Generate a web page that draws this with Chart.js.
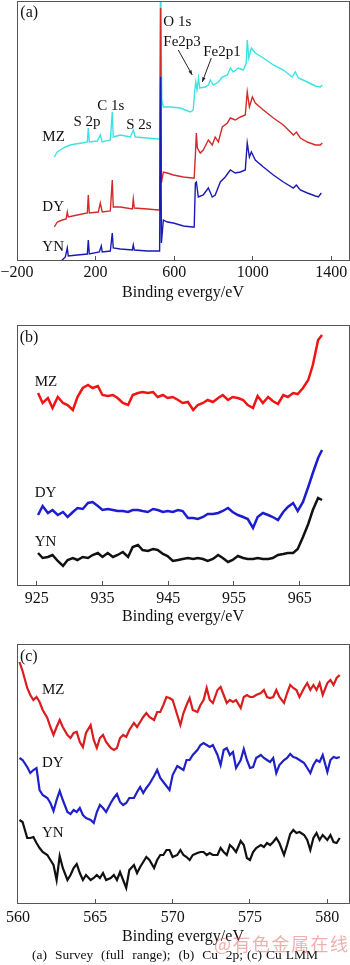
<!DOCTYPE html>
<html>
<head>
<meta charset="utf-8">
<script src="https://cdn.jsdelivr.net/npm/chart.js@4.4.1/dist/chart.umd.min.js"></script>
<style>
  body { margin: 0; background: #fff; width: 350px; height: 965px; position: relative; overflow: hidden; }
  canvas { position: absolute; left: 0; }
  #caption { position: absolute; left: 0; width: 350px; top: 947px; text-align: center;
    font: 13.5px "Liberation Serif", serif; word-spacing: 0.6px; line-height: 16px; color: #111; white-space: pre; }
  #mark { position: absolute; left: 214px; top: 930px; font: 18px "Noto Sans CJK SC", sans-serif;
    color: rgba(225, 95, 95, 0.5); letter-spacing: 1.5px; }
</style>
</head>
<body>
<canvas id="chartA" width="350" height="305" style="top:0px"></canvas>
<canvas id="chartB" width="350" height="323" style="top:305px"></canvas>
<canvas id="chartC" width="350" height="320" style="top:628px"></canvas>
<div id="caption">(a)  Survey  (full  range);  (b)  Cu  2p; (c) Cu LMM</div>
<div id="mark">@有色金属在线</div>
<script>
// ---- (a) survey spectrum, intensity in arbitrary units ----
const surveyTicks = [-200, 200, 600, 1000, 1400];
const surveyMzEv = [-10, 5, 20, 46, 71, 97, 132, 158, 163, 168, 209, 224, 234, 275, 285, 290, 326, 377, 392, 402, 463, 519, 526, 531, 537, 545, 580, 631, 682, 697, 705, 710, 716, 724, 730, 759, 774, 784, 799, 825, 845, 871, 886, 901, 927, 952, 967, 972, 980, 993, 1013, 1054, 1105, 1156, 1201, 1217, 1232, 1278, 1319, 1344, 1354];
const surveyMz = [103, 108, 110, 113, 115, 116, 117, 118, 132, 118, 119, 125, 118, 120, 148, 123, 125, 123, 130, 123, 122, 121, 121, 300, 160, 153, 153, 152, 148, 150, 170, 178, 170, 182, 172, 173, 175, 180, 175, 178, 183, 185, 192, 188, 192, 190, 197, 220, 202, 212, 207, 202, 195, 190, 183, 188, 182, 178, 174, 173, 175];
const surveyDyEv = [-10, 5, 31, 50, 56, 61, 107, 158, 163, 168, 214, 224, 234, 275, 285, 290, 326, 387, 392, 397, 463, 519, 526, 531, 535, 545, 565, 596, 647, 692, 702, 708, 713, 718, 733, 748, 774, 794, 809, 825, 845, 871, 886, 911, 937, 962, 972, 983, 998, 1013, 1054, 1105, 1156, 1207, 1222, 1242, 1278, 1319, 1344, 1354];
const surveyDy = [33, 38, 40, 41, 48, 43, 45, 47, 65, 47, 48, 57, 48, 49, 80, 53, 53, 51, 61, 52, 51, 50, 50, 252, 77, 88, 87, 85, 83, 82, 82, 105, 127, 112, 107, 110, 120, 115, 123, 118, 133, 137, 142, 140, 143, 145, 168, 153, 163, 157, 150, 142, 135, 125, 128, 122, 118, 115, 115, 117];
const surveyYnEv = [20, 46, 56, 61, 107, 158, 163, 168, 219, 229, 234, 275, 285, 290, 326, 387, 392, 397, 463, 519, 526, 531, 535, 545, 565, 596, 647, 692, 702, 708, 713, 723, 748, 774, 794, 809, 835, 860, 886, 911, 937, 962, 972, 983, 993, 1013, 1054, 1105, 1156, 1207, 1222, 1242, 1278, 1319, 1334, 1349];
const surveyYn = [-2, 3, 12, 4, 5, 6, 20, 6, 8, 14, 8, 9, 27, 12, 11, 10, 15, 10, 9, 9, 9, 183, 17, 40, 38, 37, 34, 33, 33, 77, 78, 63, 65, 72, 63, 65, 78, 83, 90, 87, 88, 90, 117, 103, 108, 100, 93, 85, 78, 72, 75, 70, 67, 64, 63, 67];

// ---- (b) Cu 2p ----
const cu2pTicks = [925, 935, 945, 955, 965];
const cu2pEv = [925.2, 925.9, 926.7, 927.4, 928.2, 929.0, 929.7, 930.5, 931.2, 932.0,
  932.8, 933.5, 934.3, 935.0, 935.8, 936.6, 937.3, 938.1, 938.9, 939.6,
  940.4, 941.1, 941.9, 942.7, 943.4, 944.2, 944.9, 945.7, 946.5, 947.2,
  948.0, 948.8, 949.5, 950.3, 951.0, 951.8, 952.6, 953.3, 954.1, 954.8,
  955.6, 956.4, 957.1, 957.9, 958.6, 959.4, 960.2, 960.9, 961.7, 962.5,
  963.2, 964.0, 964.7, 965.5, 966.3, 967.0, 967.8, 968.4];
const cu2pMz = [193, 183, 188, 178, 189, 183, 181, 176, 189, 198,
  201, 198, 200, 191, 190, 191, 188, 183, 181, 191,
  193, 194, 193, 194, 189, 191, 188, 189, 186, 183,
  184, 176, 181, 183, 186, 184, 188, 191, 186, 189,
  188, 186, 181, 178, 190, 183, 189, 185, 182, 191,
  189, 193, 192, 198, 206, 221, 246, 251];
const cu2pDy = [71, 80, 73, 76, 71, 74, 69, 74, 78, 77,
  83, 84, 80, 76, 77, 76, 75, 75, 74, 76,
  76, 75, 74, 77, 76, 74, 75, 74, 76, 75,
  68, 68, 67, 69, 72, 72, 73, 75, 78, 74,
  71, 69, 67, 58, 69, 73, 71, 69, 66, 74,
  79, 83, 75, 84, 99, 113, 128, 136];
const cu2pYn = [33, 28, 29, 31, 25, 20, 26, 28, 26, 29,
  28, 31, 33, 29, 33, 29, 31, 34, 29, 39,
  41, 36, 35, 37, 36, 32, 30, 25, 26, 27,
  28, 27, 28, 27, 25, 27, 31, 28, 24, 26,
  30, 28, 27, 27, 28, 27, 27, 28, 31, 32,
  33, 33, 37, 49, 62, 76, 88, 86];

// ---- (c) Cu LMM ----
const lmmTicks = [560, 565, 570, 575, 580];
const lmmEv = [560.1, 560.3, 560.6, 560.8, 561.0, 561.2, 561.4, 561.6, 561.9, 562.1,
  562.3, 562.5, 562.7, 562.9, 563.2, 563.4, 563.6, 563.8, 564.0, 564.2,
  564.4, 564.7, 564.9, 565.1, 565.3, 565.5, 565.7, 566.0, 566.2, 566.4,
  566.6, 566.8, 567.0, 567.2, 567.5, 567.7, 567.9, 568.1, 568.3, 568.5,
  568.8, 569.0, 569.2, 569.4, 569.6, 569.8, 570.0, 570.3, 570.5, 570.7,
  570.9, 571.1, 571.3, 571.6, 571.8, 572.0, 572.2, 572.4, 572.6, 572.9,
  573.1, 573.3, 573.5, 573.7, 573.9, 574.1, 574.4, 574.6, 574.8, 575.0,
  575.2, 575.4, 575.7, 575.9, 576.1, 576.3, 576.5, 576.7, 576.9, 577.2,
  577.4, 577.6, 577.8, 578.0, 578.2, 578.5, 578.7, 578.9, 579.1, 579.3,
  579.5, 579.7, 580.0, 580.2, 580.4, 580.6, 580.8];
const lmmMz = [241, 232, 215, 208, 203, 206, 201, 193, 185, 176,
  168, 176, 183, 176, 168, 165, 170, 171, 161, 156,
  170, 178, 163, 155, 165, 168, 161, 155, 153, 155,
  165, 168, 166, 173, 180, 176, 181, 186, 190, 186,
  183, 191, 191, 198, 206, 205, 203, 188, 178, 190,
  198, 205, 193, 191, 198, 203, 215, 203, 200, 213,
  216, 208, 200, 203, 201, 203, 195, 206, 208, 206,
  206, 208, 210, 213, 206, 205, 206, 213, 206, 200,
  210, 218, 215, 213, 206, 215, 220, 213, 218, 213,
  220, 208, 220, 223, 218, 225, 228];
const lmmDy = [145, 143, 136, 130, 133, 135, 113, 108, 105, 100,
  92, 103, 112, 103, 91, 89, 93, 91, 95, 88,
  85, 83, 80, 91, 98, 95, 91, 100, 105, 109,
  101, 98, 100, 105, 105, 111, 116, 110, 115, 119,
  127, 133, 125, 121, 117, 113, 128, 137, 135, 133,
  143, 143, 148, 153, 158, 160, 158, 156, 158, 148,
  138, 153, 155, 148, 151, 135, 143, 154, 143, 135,
  136, 145, 148, 145, 143, 141, 145, 130, 138, 143,
  145, 149, 146, 145, 143, 140, 135, 130, 138, 143,
  141, 148, 131, 143, 146, 145, 146];
const lmmYn = [83, 81, 65, 65, 66, 60, 55, 51, 48, 43,
  38, 23, 47, 35, 23, 28, 35, 39, 30, 23,
  28, 23, 25, 28, 25, 30, 23, 25, 28, 23,
  31, 23, 15, 33, 38, 30, 36, 41, 46, 43,
  35, 43, 48, 48, 53, 53, 46, 48, 53, 48,
  46, 43, 48, 50, 51, 51, 48, 50, 48, 48,
  55, 51, 48, 58, 55, 51, 62, 58, 45, 43,
  51, 55, 58, 56, 60, 58, 61, 65, 60, 48,
  58, 69, 73, 70, 71, 68, 63, 53, 65, 70,
  63, 68, 63, 68, 61, 60, 65];

const FONT = '"Liberation Serif", "Times New Roman", serif';
Chart.defaults.font.family = FONT;
Chart.defaults.color = "#111";

const toPoints = (xs, ys) => xs.map((x, i) => ({ x: x, y: ys[i] }));

// frame, in-plot labels and arrows
const panelDecor = {
  id: "panelDecor",
  afterDatasetsDraw(chart, args, opts) {
    const { ctx, chartArea: a } = chart;
    const sx = chart.scales.x, sy = chart.scales.y;
    ctx.save();
    ctx.strokeStyle = "#555";
    ctx.lineWidth = 1;
    ctx.strokeRect(a.left + 0.5, a.top + 0.5, a.right - a.left, a.bottom - a.top);
    ctx.fillStyle = "#111";
    ctx.textAlign = "left";
    ctx.textBaseline = "middle";
    (opts.labels || []).forEach((lb) => {
      ctx.font = (lb.size || 15) + "px " + FONT;
      ctx.fillText(lb.text, sx.getPixelForValue(lb.x), sy.getPixelForValue(lb.y));
    });
    ctx.strokeStyle = "#222";
    ctx.fillStyle = "#222";
    (opts.arrows || []).forEach((ar) => {
      const x1 = sx.getPixelForValue(ar.from[0]), y1 = sy.getPixelForValue(ar.from[1]);
      const x2 = sx.getPixelForValue(ar.to[0]), y2 = sy.getPixelForValue(ar.to[1]);
      const ang = Math.atan2(y2 - y1, x2 - x1);
      ctx.beginPath();
      ctx.moveTo(x1, y1);
      ctx.lineTo(x2, y2);
      ctx.stroke();
      ctx.beginPath();
      ctx.moveTo(x2, y2);
      ctx.lineTo(x2 - 5 * Math.cos(ang - 0.35), y2 - 5 * Math.sin(ang - 0.35));
      ctx.lineTo(x2 - 5 * Math.cos(ang + 0.35), y2 - 5 * Math.sin(ang + 0.35));
      ctx.closePath();
      ctx.fill();
    });
    ctx.restore();
  },
};

function makePanel(id, p) {
  const ctx = document.getElementById(id).getContext("2d");
  return new Chart(ctx, {
    type: "line",
    data: {
      datasets: p.series.map((s) => ({
        data: toPoints(s.x, s.y),
        borderColor: s.color,
        borderWidth: p.lineWidth,
        pointRadius: 0,
        tension: 0,
        fill: false,
      })),
    },
    options: {
      responsive: false,
      animation: false,
      events: [],
      layout: { padding: { left: 17, right: 1, top: p.padTop, bottom: 0 } },
      plugins: { legend: { display: false }, tooltip: { enabled: false }, panelDecor: p.decor },
      scales: {
        x: {
          type: "linear",
          min: p.xMin,
          max: p.xMax,
          border: { display: false },
          grid: { drawOnChartArea: false, drawTicks: true, tickLength: -4, color: "#555" },
          afterBuildTicks: (s) => { s.ticks = p.ticks.map((v) => ({ value: v })); },
          afterFit: (s) => { s.height = p.axisH; s.paddingLeft = 0; s.paddingRight = 0; },
          ticks: {
            autoSkip: false,
            maxRotation: 0,
            padding: p.tickPad,
            font: { size: 16 },
            color: "#111",
            callback: (v) => (v < 0 ? "\u2212" + Math.abs(v) : String(v)),
          },
          title: {
            display: true,
            text: "Binding evergy/eV",
            font: { size: 16 },
            color: "#111",
            padding: { top: 0, bottom: p.titlePad },
          },
        },
        y: { display: false, min: p.yMin, max: p.yMax },
      },
    },
    plugins: [panelDecor],
  });
}

makePanel("chartA", {
  xMin: -200, xMax: 1490, yMin: 0, yMax: 259, ticks: surveyTicks,
  padTop: 1, axisH: 45, tickPad: 7, titlePad: 2.4, lineWidth: 1.4,
  series: [
    { x: surveyYnEv, y: surveyYn, color: "#1a1ab4" },
    { x: surveyDyEv, y: surveyDy, color: "#d42a2a" },
    { x: surveyMzEv, y: surveyMz, color: "#3ee2e2" },
  ],
  decor: {
    labels: [
      { text: "(a)", x: -183, y: 247, size: 16 },
      { text: "MZ", x: -71, y: 123 },
      { text: "DY", x: -71, y: 53 },
      { text: "YN", x: -71, y: 13 },
      { text: "S 2p", x: 87, y: 138 },
      { text: "C 1s", x: 209, y: 154 },
      { text: "S 2s", x: 356, y: 135 },
      { text: "O 1s", x: 545, y: 238 },
      { text: "Fe2p3", x: 545, y: 218 },
      { text: "Fe2p1", x: 748, y: 208 },
    ],
    arrows: [
      { from: [621, 210], to: [692, 185] },
      { from: [789, 202], to: [743, 178] },
    ],
  },
});

makePanel("chartB", {
  xMin: 922, xMax: 972.5, yMin: 1, yMax: 261, ticks: cu2pTicks,
  padTop: 20, axisH: 43, tickPad: 8.4, titlePad: 1.4, lineWidth: 2.5,
  series: [
    { x: cu2pEv, y: cu2pYn, color: "#111111" },
    { x: cu2pEv, y: cu2pDy, color: "#1c1cd0" },
    { x: cu2pEv, y: cu2pMz, color: "#f01414" },
  ],
  decor: {
    labels: [
      { text: "(b)", x: 922.4, y: 248, size: 16 },
      { text: "MZ", x: 924.7, y: 204 },
      { text: "DY", x: 924.7, y: 93 },
      { text: "YN", x: 924.7, y: 44 },
    ],
  },
});

makePanel("chartC", {
  xMin: 559.94, xMax: 581.4, yMin: 0, yMax: 259, ticks: lmmTicks,
  padTop: 16, axisH: 45, tickPad: 9.4, titlePad: 1.4, lineWidth: 2.2,
  series: [
    { x: lmmEv, y: lmmYn, color: "#111111" },
    { x: lmmEv, y: lmmDy, color: "#2020c8" },
    { x: lmmEv, y: lmmMz, color: "#d81e1e" },
  ],
  decor: {
    labels: [
      { text: "(c)", x: 560.13, y: 246, size: 16 },
      { text: "MZ", x: 561.55, y: 213 },
      { text: "DY", x: 561.55, y: 140 },
      { text: "YN", x: 561.55, y: 70 },
    ],
  },
});
</script>
</body>
</html>
